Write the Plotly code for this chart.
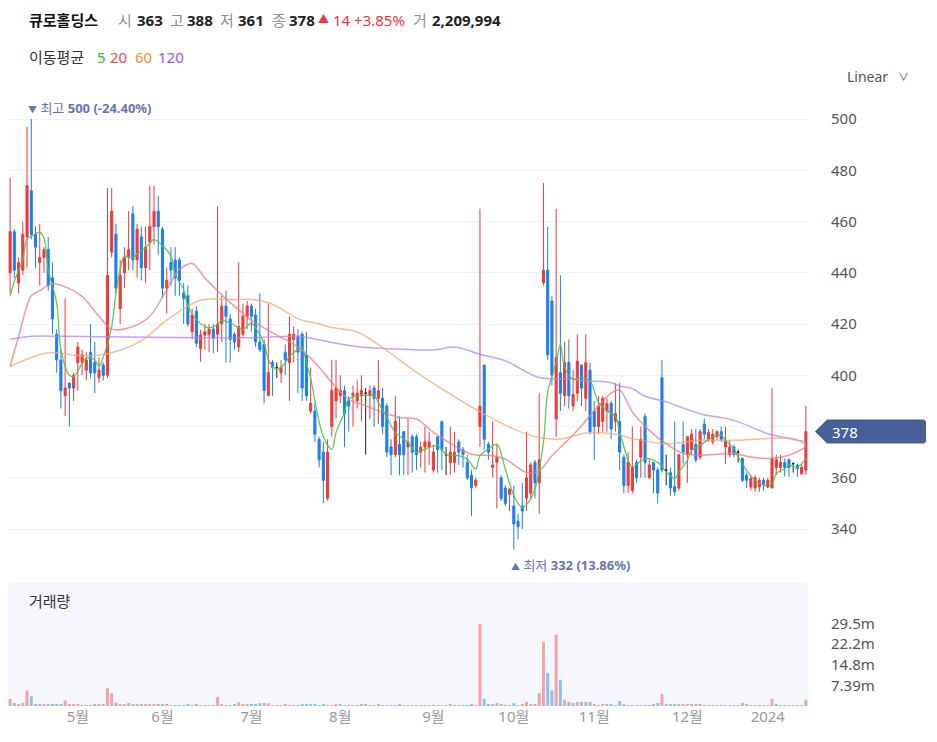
import pandas as pd
import plotly.graph_objects as go

# ---------------- data ----------------
HOLIDAYS = ['2023-05-01', '2023-05-05', '2023-05-29', '2023-06-06', '2023-08-15',
            '2023-09-28', '2023-09-29', '2023-10-02', '2023-10-03', '2023-10-09',
            '2023-12-25', '2023-12-29', '2024-01-01']
dates = [d.strftime('%Y-%m-%d') for d in pd.bdate_range('2023-04-07', '2024-01-15')
         if d.strftime('%Y-%m-%d') not in HOLIDAYS]

opens = [440, 456, 436, 441, 454, 472, 455, 444, 446, 449, 438, 416, 406, 392, 397, 395, 405, 405, 402, 409,
         405, 399, 404, 400, 448, 455, 426, 440, 446, 463, 445, 454, 442, 452, 458, 464, 457, 434, 444, 445,
         445, 432, 431, 417, 425, 410.5, 415.7, 416, 418, 416, 420, 427, 422, 416, 411, 416, 423, 427, 423.5, 413,
         412, 392, 405, 403, 401, 409, 405, 414, 415, 416, 408, 386, 386, 375, 370, 352, 380, 390, 392, 394,
         390, 392, 390, 392, 393, 392, 395, 391, 391, 388, 372, 369, 373, 378, 372, 376, 376, 370, 372, 372,
         363, 376, 382, 369, 366, 366, 374, 371, 366, 361, 357, 380, 404, 373, 364, 366, 360, 356, 353.5, 349,
         343, 349, 352, 354, 366, 358, 436, 441, 429, 383, 401, 392, 405, 388, 393, 404, 391, 402, 386, 380,
         382, 386, 389, 382, 382, 368, 357, 355, 366, 368, 384, 360, 366, 363, 399, 363, 362, 356.5, 356, 373,
         369, 371, 373, 368, 381, 375, 374, 376, 378, 372, 369, 372, 370, 367.5, 361, 356.4, 356, 356.4, 359, 356.4,
         356, 364, 364, 366, 367, 365.5, 365, 361.6, 363]
highs = [477, 457, 446, 460, 497, 500, 458, 459, 450, 454, 444, 418, 410, 430, 397, 401, 413, 410, 409, 420,
         413, 407, 405, 473, 473, 459, 445, 450, 464, 466, 459, 458, 458, 474, 474, 470, 458, 442, 450, 450,
         446, 436, 435, 426, 427, 417.7, 420, 420, 420, 466, 431, 433, 424, 417, 444, 428, 429, 428, 426, 432,
         414, 428, 406, 405, 406, 412, 423, 419, 418, 417, 417, 403, 389, 376, 374, 375, 406, 406, 400, 396,
         392, 396, 398, 400, 395, 396, 396, 406, 395, 389, 375, 392, 384, 378, 383, 377, 377, 374, 380, 378,
         373, 376, 382, 372, 380, 378, 375, 372, 369, 363, 360, 465, 404, 374, 382, 373, 361, 357, 356, 357,
         346, 358, 378, 366, 367, 393, 475, 458, 431, 465, 439, 413, 414, 402, 416, 404, 416, 405, 390, 392,
         392, 391, 390, 397, 397, 369, 370, 380, 367, 380, 385, 367.5, 366, 364, 406, 369, 364, 382, 369, 382,
         376, 379, 379, 379, 383, 379, 379, 378.5, 380, 380, 374.6, 373, 371, 368, 362, 361, 361, 360, 360, 360,
         395, 369, 369, 367.5, 367.5, 366, 365.5, 365, 388]
lows = [432, 438, 432, 439, 442, 453, 442, 435, 440, 433, 416, 401, 387, 384, 380, 390, 394, 400, 398, 399,
        393, 397, 398, 399, 446, 432, 420, 434, 441, 441, 438, 437, 436, 441, 451, 447, 430, 424, 435, 431,
        431, 420, 419, 414, 411, 405.3, 410, 409, 408.6, 409, 413, 405, 405, 410, 409, 415, 418, 417, 411, 409,
        389, 392, 392, 399, 397, 400, 390, 405, 393, 390, 390, 385, 374, 364, 350, 351, 376, 383, 389, 372,
        378, 380, 387, 382, 369, 383, 380, 381, 377, 368, 361, 368, 361, 361, 361, 362, 363, 364, 362, 365,
        362, 362, 363, 361, 361, 362, 365, 364, 359, 345, 356, 372, 371, 367, 360, 348, 351, 349, 347, 332,
        336, 340, 347, 352, 352, 346, 435, 406, 396, 376, 386, 388, 387, 386, 390, 388, 386, 377, 367, 377,
        378, 378, 375, 378, 363, 354, 354, 354, 358, 360, 360, 359.7, 354, 350, 362, 357, 353, 353, 355, 365.5,
        358, 369, 366, 367, 375, 374, 373, 374.6, 374, 365.5, 368, 368, 366, 358.4, 356, 355, 354.5, 354.5, 355, 356,
        356, 361, 362, 360.5, 360.3, 362, 360.3, 361, 361]
closes = [456, 441, 444, 455, 474, 455, 450, 446, 449, 435, 422, 406, 394, 395, 395, 400, 411, 408, 406, 401,
          401, 402, 400, 439, 464, 434, 439, 446, 449, 445, 457, 442, 450, 458, 464, 458, 434, 437, 441, 438,
          437, 430, 420, 423.5, 412.5, 415.7, 417, 418, 414.4, 420, 427, 423, 414, 413, 419, 423, 427, 423, 413, 410,
          394, 401, 403, 403, 403, 406, 416, 416, 409, 395, 392, 389, 377, 367, 359, 370, 394, 395, 394, 385,
          388, 393, 393, 394, 393, 394, 391, 394, 380, 370, 369, 382, 369, 369, 374, 370, 369, 372, 374, 374,
          370, 371, 371, 369, 370, 370, 370, 369, 360, 356, 359, 388, 375, 370, 365, 368, 352, 350, 355.5, 342,
          341, 347, 360, 365, 358, 367, 441, 408, 400, 407, 393, 405, 392, 392.5, 405.5, 395, 405, 378, 380, 388,
          391, 389, 379, 385, 370, 357, 366, 364, 360, 375, 366, 365, 363, 354, 363, 363, 356, 354.5, 369, 370,
          376, 377, 367, 378, 377, 377.6, 377, 378, 375, 374.6, 372, 369, 370, 359, 359, 359.7, 360, 359, 357.5, 359,
          367.5, 367, 366, 364, 364, 365.5, 363.6, 364, 378]
volumes_m = [2.6, 1.1, 0.7, 1.1, 5.6, 3.5, 0.5, 0.5, 0.5, 0.4, 0.4, 0.4, 0.4, 2.0, 0.5, 0.5, 0.6, 0.3, 0.3, 0.3,
             0.4, 0.4, 0.4, 6.4, 4.6, 1.2, 0.7, 0.6, 1.1, 0.6, 0.5, 0.4, 0.4, 0.5, 0.5, 0.5, 0.4, 0.4, 0.2, 0.15,
             0.15, 0.15, 0.4, 0.3, 0.4, 0.3, 0.15, 0.15, 0.15, 3.2, 0.4, 0.15, 0.15, 0.4, 1.3, 0.6, 0.6, 0.5, 0.6, 1.0,
             1.1, 1.0, 0.3, 0.15, 0.15, 0.4, 0.15, 0.15, 0.15, 0.4, 0.4, 0.4, 0.4, 0.15, 0.4, 0.15, 0.15, 0.4, 0.4, 0.15,
             0.15, 0.15, 0.15, 0.4, 0.4, 0.15, 0.15, 0.4, 0.15, 0.15, 0.15, 0.15, 0.4, 0.15, 0.15, 0.15, 0.15, 0.15, 0.15, 0.15,
             0.15, 0.15, 0.15, 0.15, 0.4, 0.15, 0.15, 0.15, 0.15, 0.4, 0.15, 29.5, 2.6, 0.5, 0.5, 1.1, 0.5, 0.15, 0.15, 1.0,
             0.15, 0.4, 1.5, 0.5, 0.5, 4.6, 22.9, 11.8, 5.6, 25.5, 9.4, 2.2, 1.5, 1.1, 1.5, 1.5, 1.5, 1.5, 0.4, 0.15,
             0.6, 0.8, 0.4, 0.15, 1.8, 0.4, 0.15, 0.15, 0.3, 0.3, 0.3, 0.15, 0.4, 1.1, 4.4, 0.4, 0.4, 0.4, 0.4, 0.4,
             0.4, 0.4, 0.4, 0.4, 0.15, 0.15, 0.3, 0.15, 0.3, 0.15, 0.15, 0.15, 0.15, 1.1, 0.4, 0.15, 0.15, 0.15, 0.15, 0.15,
             2.6, 0.5, 0.15, 0.15, 0.15, 0.15, 0.15, 0.15, 2.209994]

# moving averages (candle index, value)
ma5_idx = [0, 1, 3, 4, 5, 7, 8, 9, 11, 12, 14, 15, 17, 18, 20, 21, 22, 24, 25, 26, 27, 29, 30, 32, 34, 36, 38, 39,
           41, 42, 44, 46, 47, 49, 50, 52, 54, 55, 57, 58, 60, 61, 62, 63, 65, 66, 68, 69, 70, 71, 72, 74, 76, 77,
           79, 80, 83, 86, 87, 89, 91, 94, 96, 98, 101, 103, 106, 108, 110, 111, 113, 115, 117, 119, 121, 123, 124,
           126, 127, 129, 130, 131, 133, 135, 137, 139, 141, 143, 144, 146, 147, 150, 153, 155, 157, 158, 160, 161,
           163, 165, 166, 168, 169, 171, 172, 174, 176, 178, 180, 181, 183, 184, 186, 188]
ma5_val = [430.8, 436.7, 445.1, 453.2, 454.2, 455.8, 453.6, 441.2, 428.2, 410, 400, 399.5, 404.5, 406.8, 406.1,
           403.5, 407, 419, 432, 441.2, 446.4, 445.8, 447.5, 449.7, 452.9, 450.5, 446.4, 439.3, 433.4, 426.9, 421.7,
           419.1, 418.5, 419.8, 421.5, 420.4, 418.5, 417.8, 420.4, 418.5, 412.6, 406.1, 403.5, 402.2, 404.8, 407.4,
           410, 410.7, 404.8, 399, 390, 376, 371, 377.7, 385.5, 390.7, 392, 392, 389.4, 383.5, 377.7, 373.8, 369.9,
           371.2, 372.5, 369.2, 368.6, 367.3, 363.4, 368.6, 371.2, 373.1, 363.4, 353, 348.4, 351.7, 355.6, 373.8,
           393.3, 405, 412, 403, 398.5, 399.1, 397.8, 389.4, 386.1, 384, 378, 367, 364.2, 367.5, 366, 362.3, 359.7,
           362.3, 366.8, 370.7, 372.7, 374.9, 375.9, 376.6, 374.6, 371.4, 368.1, 362.9, 359, 357.1, 357.7, 361.6,
           363.6, 364.9, 364.2, 367.5]
ma20_idx = [0, 2, 5, 7, 10, 13, 17, 21, 24, 29, 33, 37, 40, 43, 46, 49, 53, 57, 61, 65, 68, 72, 76, 80, 84, 88,
            92, 96, 100, 105, 109, 114, 117, 122, 125, 128, 132, 135, 139, 142, 144, 147, 151, 155, 159, 163, 171,
            175, 179, 184, 188]
ma20_val = [403.5, 415, 431, 433, 435.8, 434.5, 430.8, 423, 418, 419, 423, 433.4, 441.2, 443.6, 438, 433, 426.9,
            421.5, 417.5, 414, 411, 405, 397.2, 390.7, 388.1, 385.5, 383.5, 382.9, 377.7, 372.5, 369.2, 368.6, 367.3,
            362, 362.7, 368.6, 375.1, 380.3, 388.1, 393, 394.3, 385.7, 378.5, 373.3, 369.4, 368.8, 369.4, 368.1,
            367.5, 368.8, 372]
ma60_idx = [0, 9, 17, 24, 31, 37, 45, 53, 57, 61, 66, 68, 73, 76, 82, 88, 96, 104, 112, 120, 125, 130, 136, 143,
            147, 155, 163, 171, 179, 185, 188]
ma60_val = [403.5, 408.8, 407.5, 408.8, 413.5, 421.5, 429.3, 429.5, 429.6, 428.4, 424, 422, 420, 418.6, 416.9,
            410.8, 401.1, 392.6, 384.8, 378.3, 375.7, 375.1, 377.5, 377, 375.3, 373.3, 374.6, 374.6, 375.3, 375.3,
            372.7]
ma120_idx = [0, 5, 12, 21, 33, 45, 54, 66, 68, 76, 84, 92, 100, 105, 111, 117, 125, 132, 136, 142, 144, 147, 150,
             155, 163, 171, 179, 184, 188]
ma120_val = [414, 415.2, 415.2, 415, 414.8, 414.6, 414.6, 415.2, 415.3, 412.8, 410.8, 410.2, 409.9, 411, 408.2,
             405.6, 399.1, 398.5, 397.8, 397.1, 395.8, 394.8, 391.8, 389.6, 385, 382.4, 377.2, 375.3, 374]

month_labels = ['5월', '6월', '7월', '8월', '9월', '10월', '11월', '12월', '2024']
price_ticks = [340, 360, 380, 400, 420, 440, 460, 480, 500]
vol_tick_m = [7.39, 14.8, 22.2, 29.5]
vol_tick_text = ['7.39m', '14.8m', '22.2m', '29.5m']
stock_name = '큐로홀딩스'

# ---------------- styling ----------------
RED, BLUE, BLACK = '#ee3a3a', '#1c7fef', '#222222'
VRED, VBLUE = '#f5a2a5', '#8dbff5'
FONT = 'Noto Sans, Noto Sans CJK KR, sans-serif'
N = len(dates)

fig = go.Figure()


def candles(idx, color, name):
    fig.add_trace(go.Candlestick(
        x=[dates[i] for i in idx], open=[opens[i] for i in idx], high=[highs[i] for i in idx],
        low=[lows[i] for i in idx], close=[closes[i] for i in idx], name=name,
        increasing=dict(line=dict(color=color, width=1), fillcolor=color),
        decreasing=dict(line=dict(color=color, width=1), fillcolor=color),
        whiskerwidth=0, showlegend=False, hoverinfo='skip', xaxis='x', yaxis='y'))


up = [i for i in range(N) if closes[i] > opens[i]]
dn = [i for i in range(N) if closes[i] < opens[i]]
flat = [i for i in range(N) if closes[i] == opens[i]]
candles(up, RED, 'up')
candles(dn, BLUE, 'down')
candles(flat, BLACK, 'flat')


def ma_line(idx, vals, color, width=1.5):
    fig.add_trace(go.Scatter(x=[dates[i] for i in idx], y=vals, mode='lines',
                             line=dict(color=color, width=width, shape='spline', smoothing=0.9),
                             showlegend=False, hoverinfo='skip', xaxis='x', yaxis='y'))


ma_line(ma120_idx, ma120_val, 'rgba(180,130,245,0.75)')
ma_line(ma60_idx, ma60_val, 'rgba(247,170,110,0.75)')
ma_line(ma20_idx, ma20_val, 'rgba(242,120,120,0.75)')
ma_line(ma5_idx, ma5_val, 'rgba(80,196,70,0.9)', 1.3)

vol_colors = [VRED if (i == 0 or closes[i] >= closes[i - 1]) else VBLUE for i in range(N)]
fig.add_trace(go.Bar(x=dates, y=[v * 1e6 for v in volumes_m], marker=dict(color=vol_colors, line=dict(width=0)),
                     showlegend=False, hoverinfo='skip', xaxis='x2', yaxis='y2'))

# month ticks: first trading day of each month (after the first month)
month_first = []
seen = {dates[0][:7]}
for d in dates:
    if d[:7] not in seen:
        seen.add(d[:7])
        month_first.append(d)

# page offset of 8px (html body margin) -> figure is 929x734, plot area page x 8..808, y 95..706
W, H = 929, 734
L, R, T, B = 0, 129, 87, 36
PW, PH = W - L - R, H - T - B
PAGE_X0, PAGE_Y_BOTTOM = 8, 706


def px(xp):
    return (xp - PAGE_X0) / PW


def py(yp):
    return (PAGE_Y_BOTTOM - yp) / PH


price_top, price_bot = 95, 575
vol_top = 583
ppu = 2.5625  # px per price unit, 500 at page y=119
y_hi = 500 + (119 - price_top) / ppu
y_lo = 500 - (price_bot - 119) / ppu
vol_max = (PAGE_Y_BOTTOM - vol_top) * (7.39e6 / 20.6)


def price_py(v):
    return 119 + (500 - v) * ppu


last, prev = closes[-1], closes[-2]
# the last-price tag hides the tick label it covers (as in the original)
price_tick_text = ['' if abs(v - last) < 6 else str(v) for v in price_ticks]

fig.update_layout(
    width=W, height=H, margin=dict(l=L, r=R, t=T, b=B),
    paper_bgcolor='white', plot_bgcolor='white', showlegend=False,
    font=dict(family=FONT, color='#555'),
    bargap=0.3,
    xaxis=dict(domain=[0, 1], anchor='y', type='category', categoryorder='array', categoryarray=dates,
               range=[-0.5, N - 0.5], showticklabels=False, showgrid=False, zeroline=False,
               rangeslider=dict(visible=False), fixedrange=True),
    xaxis2=dict(domain=[0, 1], anchor='y2', type='category', categoryorder='array', categoryarray=dates,
                range=[-0.5, N - 0.5], tickvals=month_first, ticktext=month_labels[:len(month_first)],
                tickfont=dict(size=15, color='#9a9a9a'), showgrid=False, zeroline=False, ticks='',
                rangeslider=dict(visible=False), matches='x'),
    yaxis=dict(domain=[py(price_bot), 1], anchor='x', side='right', range=[y_lo, y_hi],
               tickvals=price_ticks, ticktext=price_tick_text,
               gridcolor='#f1f2f8', gridwidth=1, zeroline=False, showline=False, ticks='',
               tickfont=dict(size=15, color='#555'), ticklabelstandoff=22),
    yaxis2=dict(domain=[0, py(vol_top)], anchor='x2', side='right', range=[0, vol_max],
                tickvals=[v * 1e6 for v in vol_tick_m], ticktext=vol_tick_text, showgrid=False,
                zeroline=False, showline=False, ticks='', tickfont=dict(size=15, color='#555'),
                ticklabelstandoff=22),
)

fig.add_shape(type='rect', xref='x2 domain', yref='y2 domain', x0=0, x1=1, y0=0, y1=1,
              fillcolor='#f5f7fc', line=dict(width=0), layer='below')


def note(xp, yp, text, size=15, color='#222', anchor='left'):
    fig.add_annotation(xref='paper', yref='paper', x=px(xp), y=py(yp), text=text, showarrow=False,
                       xanchor=anchor, yanchor='middle', font=dict(size=size, color=color, family=FONT))


GRAY = '#8f8f8f'
chg = last - prev
pct = chg / prev * 100
note(27, 20, f'<b>{stock_name}</b>', 15, '#111')
note(116, 20, '시', 15, GRAY)
note(135, 20, f'<b>{opens[-1]:g}</b>', 15, '#222')
note(168, 20, '고', 15, GRAY)
note(185, 20, f'<b>{highs[-1]:g}</b>', 15, '#222')
note(218, 20, '저', 15, GRAY)
note(236, 20, f'<b>{lows[-1]:g}</b>', 15, '#222')
note(270, 20, '종', 15, GRAY)
note(287, 20, f'<b>{last:g}</b>', 15, '#222')
note(316, 19, '▲', 11, '#f0343c')
note(331, 20, f'{chg:g} +{pct:.2f}%', 15, '#f0343c')
note(411, 20, '거', 15, GRAY)
note(430, 20, f'<b>{int(round(volumes_m[-1] * 1e6)):,}</b>', 15, '#222')

note(27, 57, '이동평균', 15, '#333')
note(95, 57, '5', 15, '#2db838')
note(108, 57, '20', 15, '#f24a4a')
note(133, 57, '60', 15, '#fb8a34')
note(156, 57, '120', 15, '#9a55f5')

note(845, 76, 'Linear', 14, '#555')
note(896, 76, '∨', 11, '#555')
note(27, 601, '거래량', 15, '#333')

# high / low markers
hi_i = max(range(N), key=lambda i: highs[i])
lo_i = min(range(N), key=lambda i: lows[i])
hi_pct = (last - highs[hi_i]) / highs[hi_i] * 100
lo_pct = (last - lows[lo_i]) / lows[lo_i] * 100
fig.add_annotation(xref='x', yref='y', x=dates[hi_i], y=highs[hi_i], xanchor='left', yanchor='bottom',
                   xshift=-5, yshift=0, showarrow=False,
                   text=f'<span style="font-size:9px">▼</span> 최고 <b>{highs[hi_i]:g} ({hi_pct:.2f}%)</b>',
                   font=dict(size=13, color='#6477b2', family=FONT))
fig.add_annotation(xref='x', yref='y', x=dates[lo_i], y=lows[lo_i], xanchor='left', yanchor='top',
                   xshift=-5, yshift=-4, showarrow=False,
                   text=f'<span style="font-size:9px">▲</span> 최저 <b>{lows[lo_i]:g} ({lo_pct:.2f}%)</b>',
                   font=dict(size=13, color='#6477b2', family=FONT))

# last price tag: pentagon pointing left, drawn in paper coordinates derived from the last close
TAG = '#475f99'
yc = price_py(last)
pts = [(815, yc), (827, yc - 12), (924, yc - 12), (926, yc - 10), (926, yc + 10), (924, yc + 12), (827, yc + 12)]
path = 'M ' + ' L '.join(f'{px(a):.5f},{py(b):.5f}' for a, b in pts) + ' Z'
fig.add_shape(type='path', xref='paper', yref='paper', path=path, fillcolor=TAG, line=dict(width=0),
              layer='above')
fig.add_annotation(xref='paper', yref='y', x=px(830), y=last, xanchor='left', yanchor='middle',
                   text=f'{last:g}', showarrow=False, font=dict(size=15, color='white', family=FONT))

fig.write_html('out.html')
